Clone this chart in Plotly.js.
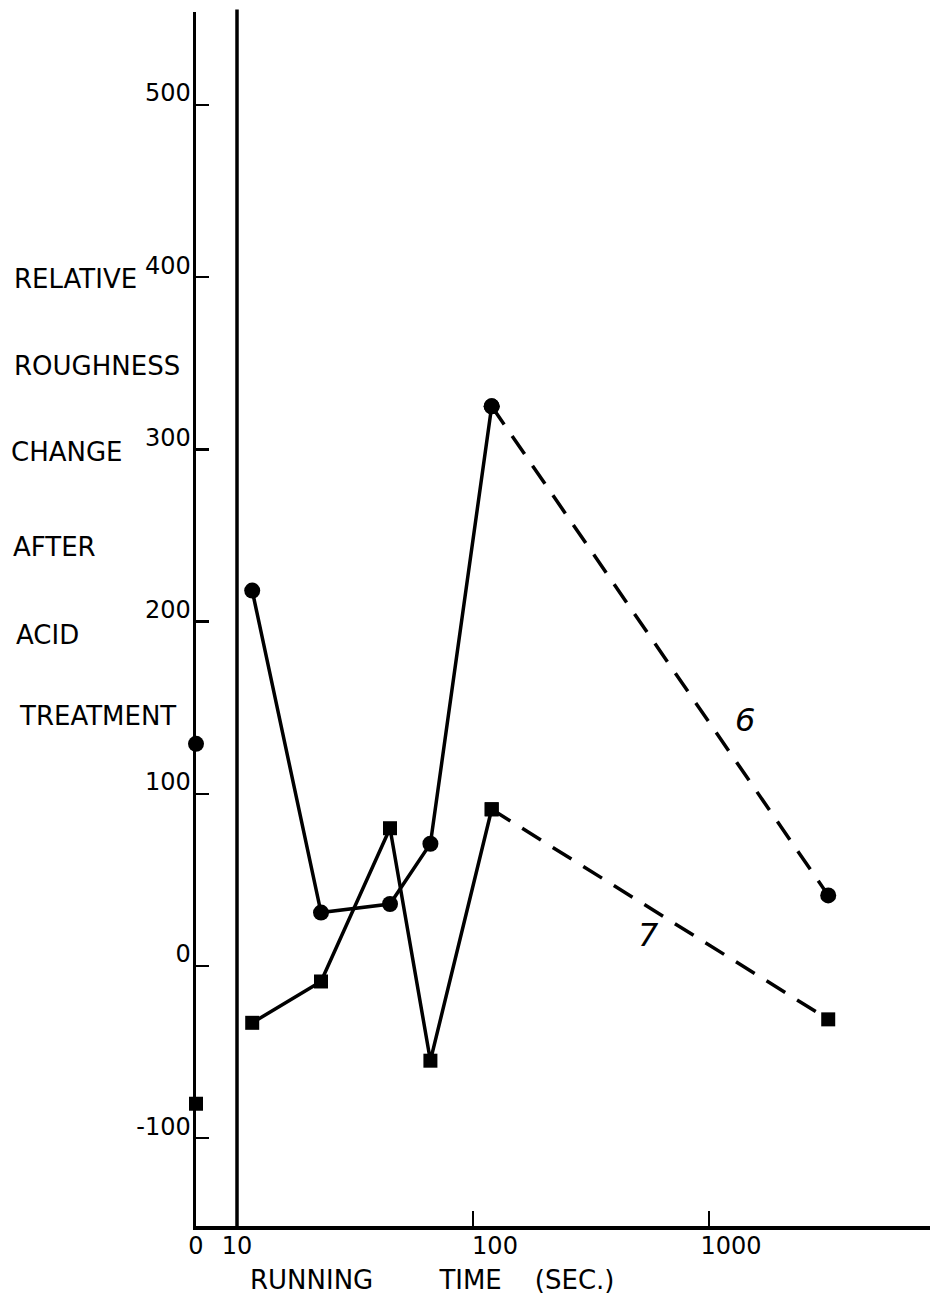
<!DOCTYPE html>
<html><head><meta charset="utf-8">
<script src="https://cdn.plot.ly/plotly-3.0.1.min.js"></script>
<style>html,body{margin:0;padding:0;background:#fff}#chart{width:934px;height:1301px}</style>
</head><body><div id="chart"></div>
<script>
// ---- data ----
const zeroTime = [0];
const curve6AtZero = [129];
const curve7AtZero = [-80];
const runningTimes = [11.6, 22.7, 44.5, 66, 120, 3200];
const curve6 = [218, 31, 36, 71, 325, 41];
const curve7 = [-33, -9, 80, -55, 91, -31];
const yTicks = [-100, 0, 100, 200, 300, 400, 500];
const xTicksLin = [0, 10];
const xTicksLog = [100, 1000];
const yTitleLines = ["RELATIVE", "ROUGHNESS", "CHANGE", "AFTER", "ACID", "TREATMENT"];
const xTitle = "RUNNING&nbsp;&nbsp;&nbsp;&nbsp;&nbsp;&nbsp;&nbsp;&nbsp;TIME&nbsp;&nbsp;&nbsp;&nbsp;(SEC.)";
const curveNames = ["6", "7"];

// ---- layout geometry ----
const W = 934, H = 1301, L = 196, R = 930, T = 12, B = 1226;
const pw = R - L, ph = B - T;
const breakPx = 237, decadePx = 236;
const lastSolid = 4;
const FONT = "DejaVu Sans, Liberation Sans, sans-serif";
const FS = 26, TFS = 24;
const black = "#000";
const px2X = px => (px - L) / pw;
const px2Y = py => (B - py) / ph;
const linEnd = px2X(breakPx);
const LW = 3.5;

const traces = [
  {x: zeroTime, y: curve6AtZero, xaxis: 'x', yaxis: 'y', mode: 'markers',
   marker: {symbol: 'circle', size: 16, color: black}, cliponaxis: false, hoverinfo: 'none'},
  {x: zeroTime, y: curve7AtZero, xaxis: 'x', yaxis: 'y', mode: 'markers',
   marker: {symbol: 'square', size: 14, color: black}, cliponaxis: false, hoverinfo: 'none'}
];
[[curve6, 'circle', 16], [curve7, 'square', 14]].forEach(([ys, sym, sz]) => {
  traces.push({x: runningTimes.slice(0, lastSolid + 1), y: ys.slice(0, lastSolid + 1),
    xaxis: 'x2', yaxis: 'y', mode: 'lines+markers', line: {color: black, width: LW},
    marker: {symbol: sym, size: sz, color: black}, cliponaxis: false, hoverinfo: 'none'});
  traces.push({x: runningTimes.slice(lastSolid), y: ys.slice(lastSolid),
    xaxis: 'x2', yaxis: 'y', mode: 'lines+markers', line: {color: black, width: LW, dash: '22px,14px'},
    marker: {symbol: sym, size: sz, color: black}, cliponaxis: false, hoverinfo: 'none'});
});

const titleLineX = [12, 12, 9, 11, 14, 17];
const titleLineY = [279, 366, 452, 547, 635, 716];
const annotations = yTitleLines.map((t, i) => ({
  text: t, xref: 'paper', yref: 'paper', x: px2X(titleLineX[i]), y: px2Y(titleLineY[i]),
  xanchor: 'left', yanchor: 'middle', showarrow: false, font: {size: FS, family: FONT, color: black}
}));
annotations.push({text: xTitle, xref: 'paper', yref: 'paper', x: px2X(248), y: px2Y(1280),
  xanchor: 'left', yanchor: 'middle', showarrow: false, font: {size: FS, family: FONT, color: black}});
const labelPos = [[1420, 143], [552, 18]];
curveNames.forEach((n, i) => annotations.push({
  text: '<i>' + n + '</i>', xref: 'x2', yref: 'y', x: Math.log10(labelPos[i][0]), y: labelPos[i][1],
  showarrow: false, font: {size: 32, family: FONT, color: black}
}));

const axisCommon = {showgrid: false, zeroline: false, showline: true, linewidth: LW, linecolor: black,
  tickcolor: black, fixedrange: true, tickfont: {size: TFS, family: FONT, color: black}};

const layout = {
  width: W, height: H, margin: {l: L, r: W - R, t: T, b: H - B, pad: 0},
  paper_bgcolor: '#fff', plot_bgcolor: '#fff', showlegend: false,
  font: {family: FONT, size: FS, color: black},
  xaxis: Object.assign({}, axisCommon, {domain: [0, linEnd], type: 'linear', range: [0, 10],
    tickmode: 'array', tickvals: xTicksLin, ticktext: xTicksLin.map(String), ticks: '', anchor: 'y',
    ticklabelstandoff: -4}),
  xaxis2: Object.assign({}, axisCommon, {domain: [linEnd, 1], type: 'log',
    range: [1, 1 + (R - breakPx) / decadePx], tickmode: 'array', tickvals: xTicksLog,
    ticktext: xTicksLog.map(String), ticks: 'inside', ticklen: 15, tickwidth: 2.5, anchor: 'y',
    ticklabelshift: 22, ticklabelstandoff: -4}),
  yaxis: Object.assign({}, axisCommon, {range: [-151, 554], tickmode: 'array', tickvals: yTicks,
    ticktext: yTicks.map(String), ticks: 'inside', ticklen: 13, tickwidth: 2.5, anchor: 'x',
    ticklabelshift: -12, ticklabelstandoff: -3}),
  shapes: [{type: 'line', xref: 'x2 domain', yref: 'paper', x0: 0, x1: 0, y0: 0, y1: 1.002,
    line: {color: black, width: LW}}],
  annotations: annotations
};

Plotly.newPlot('chart', traces, layout, {displayModeBar: false, staticPlot: true});
</script></body></html>
